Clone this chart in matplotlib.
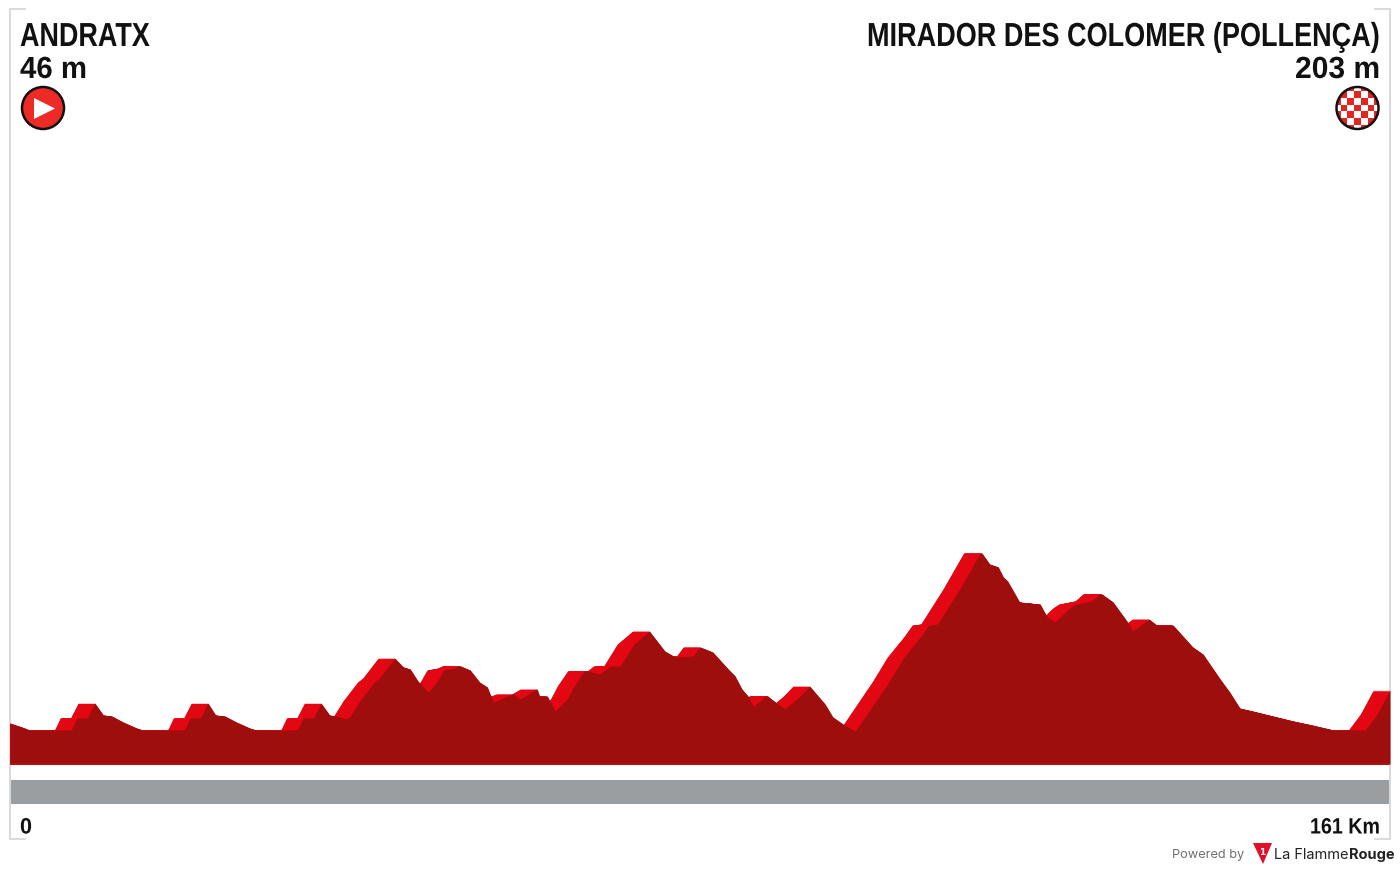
import matplotlib
matplotlib.use("Agg")
import matplotlib.pyplot as plt
from matplotlib.patches import Circle, Polygon, Rectangle
from matplotlib.patheffects import AbstractPathEffect
from matplotlib.transforms import Affine2D
import numpy as np

start_name = "ANDRATX"
start_alt = "46 m"
finish_name = "MIRADOR DES COLOMER (POLLENÇA)"
finish_alt = "203 m"
dist_start = "0"
dist_end = "161 Km"

km = [0, 1.4, 2.3, 6.9, 7.2, 7.8, 9.0, 9.9, 10.9, 11.9, 13.2, 14.8, 15.5,
      20.1, 20.4, 21.0, 22.2, 23.1, 24.0, 25.1, 26.4, 28.0, 28.7,
      33.3, 33.6, 34.2, 35.4, 36.3, 37.3, 38.0, 39.3, 39.7, 40.8, 42.5, 43.1,
      44.9, 45.9, 46.7, 47.6, 48.8, 49.8, 50.6, 51.9, 52.3, 52.6, 53.7, 54.8,
      55.7, 56.4, 58.0, 58.7, 59.5, 60.7, 61.5, 61.8, 62.7, 63.6, 65.0, 65.8,
      67.0, 67.4, 68.8, 69.3, 70.0, 71.2, 72.8, 74.6, 76.4, 77.4, 77.8, 79.7,
      80.5, 82.0, 83.8, 84.6, 85.4, 86.1, 86.7, 87.5, 88.2, 88.4, 89.3, 90.4,
      91.5, 92.2, 93.3, 95.1, 96.0, 97.2, 98.6, 99.2, 102.6, 104.3, 106.2,
      107.2, 108.2, 110.8, 113.2, 113.4, 114.3, 115.3, 115.9, 116.4, 117.8,
      120.2, 121.0, 121.9, 123.6, 124.3, 126.2, 127.1, 127.4, 128.7, 130.3,
      131.0, 132.9, 133.8, 135.7, 138.0, 139.2, 141.2, 142.3, 143.5, 145.0,
      147.4, 149.7, 152.0, 154.4, 158.1, 159.5, 161]
alt = [46, 27, 13, 13, 17, 70, 70, 141, 84, 79, 51, 22, 13,
       13, 17, 70, 70, 141, 84, 79, 51, 22, 13,
       13, 17, 70, 70, 141, 84, 79, 65, 79, 151, 241, 260,
       355, 313, 303, 246, 194, 241, 298, 308, 317, 317, 298, 241,
       217, 146, 174, 184, 160, 189, 208, 174, 174, 103, 160, 222,
       294, 294, 279, 294, 317, 317, 422, 484, 389, 365, 360, 365,
       408, 384, 303, 270, 208, 175, 127, 151, 175, 175, 146, 113,
       151, 175, 222, 136, 75, 41, 8, 41, 246, 360, 455,
       512, 517, 684, 855, 855, 803, 789, 741, 722, 622,
       612, 551, 527, 593, 612, 627, 660, 660, 622, 532,
       484, 541, 512, 512, 408, 374, 255, 194, 117, 103,
       79, 56, 36, 13, 13, 89, 203]

km = np.array(km)
alt = np.array(alt)

W, H = 1400, 870
fig = plt.figure(figsize=(W / 100, H / 100), dpi=100, facecolor="white")


# no condensed family installed, so squeeze the glyphs sideways at draw time
class Squeeze(AbstractPathEffect):
    def __init__(self, sx, x0):
        super().__init__()
        self.sx = sx
        self.x0 = x0

    def draw_path(self, renderer, gc, tpath, affine, rgbFace=None):
        a = affine + Affine2D().translate(-self.x0, 0).scale(self.sx, 1).translate(self.x0, 0)
        renderer.draw_path(gc, tpath, a, rgbFace)


# profile axes: spans the frame, base of the hill at y=765
ax = fig.add_axes([10 / W, 1 - 765 / H, 1380 / W, 755 / H])
ax.set_xlim(0, 161)
ax.set_ylim(-149, 3445)
ax.axis("off")
ax.set_zorder(2)

# bright side of the hill = same profile swept 2 km to the left
for shift in np.arange(0.05, 2.0, 0.05):
    ax.fill_between(km - shift, -149, alt, color="#e30613", lw=0)
ax.fill_between(km, -149, alt, color="#9d0e0c", lw=0)
ax.axhline(-149, color="#d8383c", lw=1)

# everything else in pixel coordinates
ov = fig.add_axes([0, 0, 1, 1])
ov.set_xlim(0, W)
ov.set_ylim(H, 0)
ov.axis("off")
ov.patch.set_alpha(0)
ov.set_zorder(1)


def label(x, y, s, size, width, ha):
    t = ov.text(x, y, s, family="Liberation Sans", weight="bold", fontsize=size,
                va="center", ha=ha, color="#111111")
    fig.canvas.draw()
    t.set_path_effects([Squeeze(width / t.get_window_extent().width, x)])
    return t


# frame corners
grey = "#d9d9d9"
ov.plot([25, 10.3, 10.3, 25], [10, 10, 840, 840], color=grey, lw=1.4)
ov.plot([1375, 1389.7, 1389.7, 1375], [10, 10, 840, 840], color=grey, lw=1.4)

# road band
ov.add_patch(Rectangle((10, 780.5), 1380, 24, color="#9b9ea1", lw=0))

# labels
label(20, 38.5, start_name, 24, 130, "left")
label(20, 71, start_alt, 22, 67, "left")
label(1380, 38.5, finish_name, 24, 513, "right")
label(1380, 71, finish_alt, 22, 85, "right")
label(20, 829, dist_start, 16, 12, "left")
label(1380, 829, dist_end, 16, 70, "right")

# start icon
ov.add_patch(Circle((43, 109), 21, fc="#ed2a26", ec="#111111", lw=1.8))
ov.add_patch(Polygon([(34, 99), (34, 120), (55, 109.5)], fc="white", lw=0))

# finish icon
clip = Circle((1357.5, 109), 21, fc="white", ec="none")
ov.add_patch(clip)
cell = 6.7
for i in range(-4, 5):
    for j in range(-4, 5):
        if (i + j) % 2 == 0:
            r = Rectangle((1357.5 + (i - 0.5) * cell, 109 + (j - 0.5) * cell), cell, cell,
                          fc="#e5231f", lw=0)
            ov.add_patch(r)
            r.set_clip_path(clip)
ov.add_patch(Circle((1357.5, 109), 21, fc="none", ec="#111111", lw=1.8))

# footer logo
ov.text(1172, 855, "Powered by", family="Inter", fontsize=9.2, va="center", ha="left", color="#6f6f6f")
ov.add_patch(Polygon([(1253, 844), (1272, 844), (1263, 865)], fc="#e30f2a", lw=0))
ov.text(1262.5, 853, "1", family="DejaVu Sans", weight="bold", fontsize=6.5, va="center", ha="center", color="white")
t = ov.text(1274, 855, "La Flamme", family="Inter", fontsize=10.5, va="center", ha="left", color="#222222")
fig.canvas.draw()
bb = t.get_window_extent()
ov.text(bb.x1 + 0.5, 855, "Rouge", family="Inter", weight="bold", fontsize=10.5, va="center", ha="left", color="#222222")

fig.savefig("out.png", dpi=100)
